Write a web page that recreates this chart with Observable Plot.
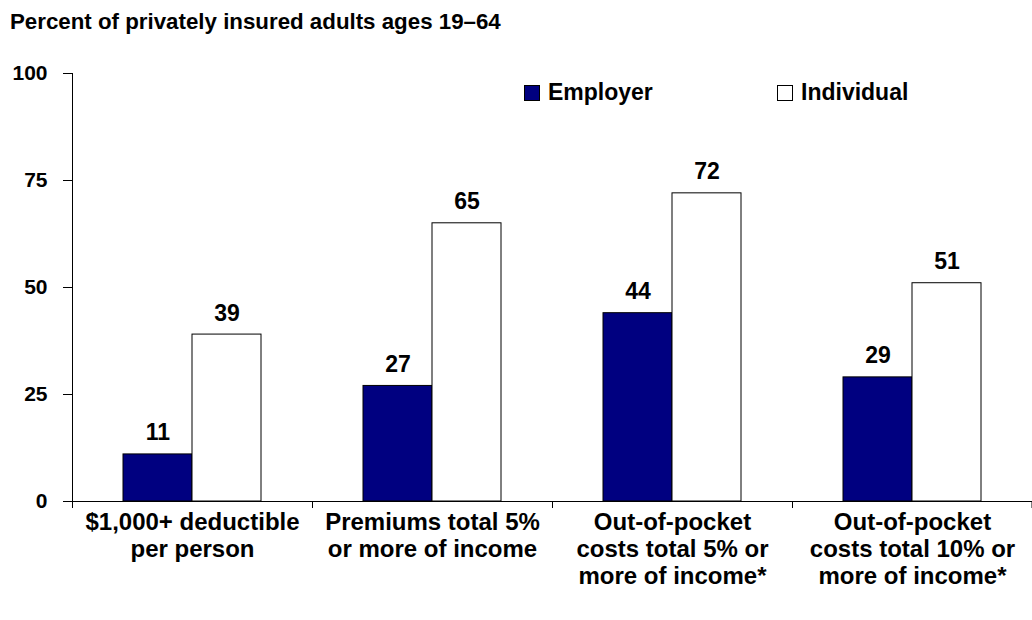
<!DOCTYPE html>
<html><head><meta charset="utf-8">
<script src="https://cdn.jsdelivr.net/npm/d3@7"></script>
<script src="https://cdn.jsdelivr.net/npm/@observablehq/plot@0.6"></script>
<style>
body{margin:0;background:#fff;font-family:"Liberation Sans",Arial,sans-serif;color:#000;}
#wrap{position:relative;width:1032px;height:620px;overflow:hidden;}
#chart{position:absolute;left:0;top:0;}
#title{position:absolute;left:10px;top:9px;font-weight:bold;font-size:22.3px;white-space:nowrap;}
.leg{position:absolute;top:79px;font-weight:bold;font-size:23px;display:flex;align-items:center;white-space:nowrap;}
.sw{width:16px;height:16px;border:1px solid #000;margin-right:8px;box-sizing:border-box;}
</style></head>
<body>
<div id="wrap">
  <div id="chart"></div>
  <div id="title">Percent of privately insured adults ages 19–64</div>
  <div id="legend"></div>
</div>
<script>
const categories = [
  "$1,000+ deductible\nper person",
  "Premiums total 5%\nor more of income",
  "Out-of-pocket\ncosts total 5% or\nmore of income*",
  "Out-of-pocket\ncosts total 10% or\nmore of income*"
];
const series = ["Employer", "Individual"];
const seriesColors = ["#000080", "#ffffff"];
const employer = [11, 27, 44, 29];
const individual = [39, 65, 72, 51];
const yTicks = [0, 25, 50, 75, 100];

const empRows = categories.map((c, i) => ({cat: c, series: "Employer", value: employer[i]}));
const indRows = categories.map((c, i) => ({cat: c, series: "Individual", value: individual[i]}));

const chart = Plot.plot({
  width: 1032, height: 620,
  marginLeft: 72, marginRight: 0, marginTop: 73, marginBottom: 119,
  style: {fontFamily: "'Liberation Sans', Arial, sans-serif", fontWeight: "bold", color: "#000", background: "transparent", overflow: "visible"},
  x: {domain: categories, padding: 0, label: null},
  y: {domain: [0, 100], label: null},
  color: {domain: series, range: seriesColors},
  marks: [
    Plot.barY(empRows, {x: "cat", y: "value", fill: "series", stroke: "#000", strokeWidth: 1, insetLeft: 51, insetRight: 120}),
    Plot.barY(indRows, {x: "cat", y: "value", fill: "series", stroke: "#000", strokeWidth: 1, insetLeft: 120, insetRight: 51}),
    Plot.ruleY([0], {stroke: "#000"}),
    Plot.ruleX([categories[0]], {x: d => d, dx: -120, y1: 100, y2: 0, insetBottom: -7, stroke: "#000"}),
    Plot.ruleX(categories.slice(1), {x: d => d, dx: -120, y1: 0, y2: 0, insetBottom: -7, stroke: "#000"}),
    Plot.ruleX([categories[categories.length - 1]], {x: d => d, dx: 119.5, y1: 0, y2: 0, insetBottom: -7, stroke: "#000"}),
    Plot.axisY({ticks: yTicks, tickSize: 9, tickPadding: 16, fontSize: 21, tickFormat: d => String(d), label: null}),
    Plot.axisX({tickSize: 0, tickPadding: 9, fontSize: 24, lineHeight: 1.125, label: null}),
    Plot.text(empRows, {x: "cat", y: "value", text: "value", dx: -34.5, dy: -14, lineAnchor: "bottom", fontSize: 23, fill: "#000"}),
    Plot.text(indRows, {x: "cat", y: "value", text: "value", dx: 34.5, dy: -14, lineAnchor: "bottom", fontSize: 23, fill: "#000"})
  ]
});
document.getElementById("chart").appendChild(chart);

const legendPos = [524, 777];
const legend = document.getElementById("legend");
series.forEach((s, i) => {
  const item = document.createElement("div");
  item.className = "leg";
  item.style.left = legendPos[i] + "px";
  const sw = document.createElement("div");
  sw.className = "sw";
  sw.style.background = seriesColors[i];
  const t = document.createElement("span");
  t.textContent = s;
  item.appendChild(sw); item.appendChild(t);
  legend.appendChild(item);
});
</script>
</body></html>
